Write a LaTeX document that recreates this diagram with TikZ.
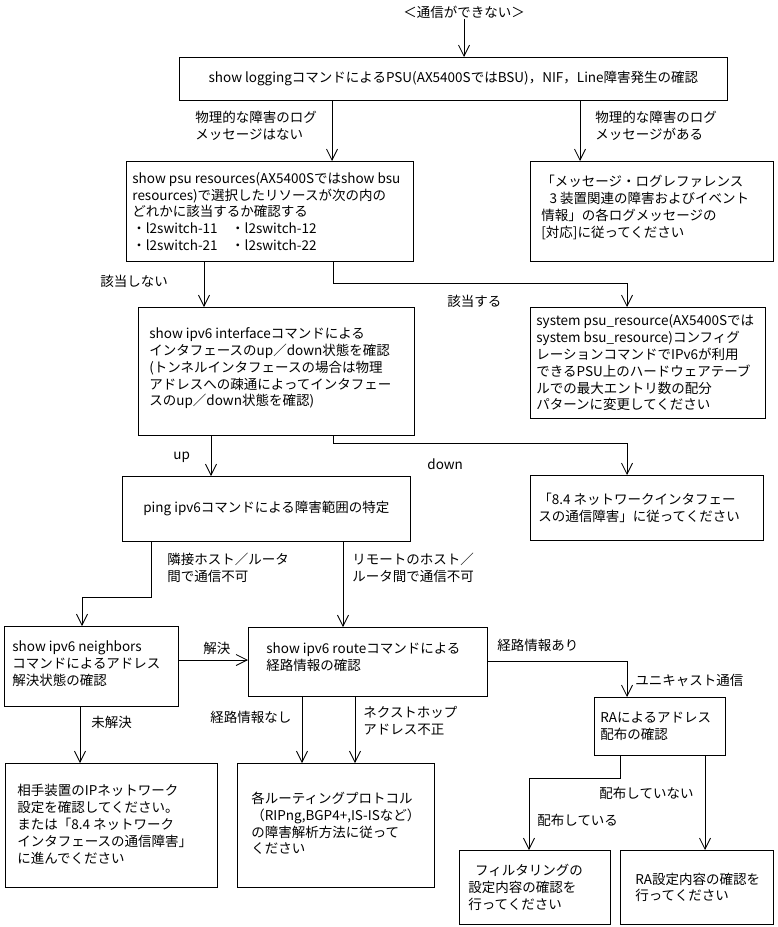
\documentclass[tikz,border=0pt]{standalone}
\usepackage{fontspec}
\setmainfont{Noto Sans CJK JP}
\usetikzlibrary{arrows.meta}

\begin{document}
\begin{tikzpicture}[
  x = 1pt, y = -1pt,
  font = \fontsize{13.5}{16.8}\selectfont,
  line width = 0.8pt,
  box/.style = {rectangle, draw, anchor = north west, inner sep = 0pt},
  txt/.style = {anchor = west, align = left, inner sep = 0pt},
  lbl/.style = {anchor = west, align = left, inner sep = 0pt},
  arr/.style = {-{Straight Barb[length = 11pt, width = 11pt]}}
]
  \fill[white] (0,0) rectangle (778,927);
  \useasboundingbox (0,0) rectangle (778,927);

  \node[inner sep = 0pt] (title) at (464, 12) {＜通信ができない＞};

  \node[box, minimum width = 548pt, minimum height = 43pt]  (log)    at (179, 57)  {};
  \node[box, minimum width = 287pt, minimum height = 100pt] (psu)    at (126, 161) {};
  \node[box, minimum width = 243pt, minimum height = 100pt] (msg)    at (530, 161) {};
  \node[box, minimum width = 276pt, minimum height = 128pt] (intf)   at (138, 307) {};
  \node[box, minimum width = 235pt, minimum height = 111pt] (rsrc)   at (530, 307) {};
  \node[box, minimum width = 288pt, minimum height = 65pt]  (ping)   at (122, 476) {};
  \node[box, minimum width = 233pt, minimum height = 65pt]  (nwif)   at (530, 475) {};
  \node[box, minimum width = 174pt, minimum height = 80pt]  (nbr)    at (4, 626)   {};
  \node[box, minimum width = 239pt, minimum height = 69pt]  (route)  at (248, 627) {};
  \node[box, minimum width = 131pt, minimum height = 58pt]  (ra)     at (594, 697) {};
  \node[box, minimum width = 212pt, minimum height = 124pt] (peer)   at (5, 763)   {};
  \node[box, minimum width = 197pt, minimum height = 124pt] (proto)  at (237, 763) {};
  \node[box, minimum width = 151pt, minimum height = 74pt]  (filt)   at (459, 850) {};
  \node[box, minimum width = 153pt, minimum height = 74pt]  (raconf) at (620, 850) {};

  \node[inner sep = 0pt] (log-t) at (log.center) {show loggingコマンドによるPSU(AX5400SではBSU)，NIF，Line障害発生の確認};
  \node[txt] (psu-t) at ([xshift = 6pt]psu.west) {show psu resources(AX5400Sではshow bsu\\resources)で選択したリソースが次の内の\\どれかに該当するか確認する\\・l2switch-11　・l2switch-12\\・l2switch-21　・l2switch-22};
  \node[txt] (msg-t) at ([xshift = 11pt, yshift = 4pt]msg.west) {「メッセージ・ログレファレンス\\\hspace*{0.6em}3 装置関連の障害およびイベント\\情報」の各ログメッセージの\\{}{[}対応{]}に従ってください};
  \node[txt] (intf-t) at ([xshift = 11pt, yshift = 3pt]intf.west) {show ipv6 interfaceコマンドによる\\インタフェースのup／down状態を確認\\(トンネルインタフェースの場合は物理\\アドレスへの疎通によってインタフェー\\スのup／down状態を確認)};
  \node[txt] (rsrc-t) at ([xshift = 6pt]rsrc.west) {system psu\_resource(AX5400Sでは\\system bsu\_resource)コンフィグ\\レーションコマンドでIPv6が利用\\できるPSU上のハードウェアテーブ\\ルでの最大エントリ数の配分\\パターンに変更してください};
  \node[inner sep = 0pt] (ping-t) at (ping.center) {ping ipv6コマンドによる障害範囲の特定};
  \node[txt] (nwif-t) at ([xshift = 8pt]nwif.west) {「8.4 ネットワークインタフェー\\スの通信障害」に従ってください};
  \node[txt] (nbr-t) at ([xshift = 8pt, yshift = 3pt]nbr.west) {show ipv6 neighbors\\コマンドによるアドレス\\解決状態の確認};
  \node[txt] (route-t) at ([xshift = 18pt, yshift = 5pt]route.west) {show ipv6 routeコマンドによる\\経路情報の確認};
  \node[txt] (ra-t) at ([xshift = 6pt]ra.west) {RAによるアドレス\\配布の確認};
  \node[txt] (peer-t) at ([xshift = 12pt, yshift = 1pt]peer.west) {相手装置のIPネットワーク\\設定を確認してください。\\または「8.4 ネットワーク\\インタフェースの通信障害」\\に進んでください};
  \node[txt] (proto-t) at ([xshift = 14pt, yshift = 2pt]proto.west) {各ルーティングプロトコル\\（RIPng,BGP4+,IS-ISなど）\\の障害解析方法に従って\\ください};
  \node[txt] (filt-t) at ([xshift = 9pt]filt.west) {\hspace*{0.5em}フィルタリングの\\設定内容の確認を\\行ってください};
  \node[txt] (raconf-t) at ([xshift = 15pt]raconf.west) {RA設定内容の確認を\\行ってください};

  \node[lbl] (nolog)    at (195, 126) {物理的な障害のログ\\メッセージはない};
  \node[lbl] (haslog)   at (595, 126) {物理的な障害のログ\\メッセージがある};
  \node[lbl] (nomatch)  at (100, 281) {該当しない};
  \node[lbl] (match)    at (447, 301) {該当する};
  \node[lbl] (up)       at (173, 457) {up};
  \node[lbl] (down)     at (427, 464) {down};
  \node[lbl] (near)     at (167, 568) {隣接ホスト／ルータ\\間で通信不可};
  \node[lbl] (remote)   at (352, 568) {リモートのホスト／\\ルータ間で通信不可};
  \node[lbl] (solved)   at (203, 648) {解決};
  \node[lbl] (unsolved) at (91, 722)  {未解決};
  \node[lbl] (noroute)  at (210, 717) {経路情報なし};
  \node[lbl] (badhop)   at (363, 721) {ネクストホップ\\アドレス不正};
  \node[lbl] (hasroute) at (497, 645) {経路情報あり};
  \node[lbl] (unicast)  at (635, 680) {ユニキャスト通信};
  \node[lbl] (nodist)   at (599, 793) {配布していない};
  \node[lbl] (dist)     at (537, 820) {配布している};

  \draw[arr] (title.south) -- (title.south |- log.north);
  \draw[arr] (log.south -| 332,0) -- (psu.north -| 332,0);
  \draw[arr] (log.south -| 580,0) -- (msg.north -| 580,0);
  \draw[arr] (psu.south -| 204,0) -- (intf.north -| 204,0);
  \draw[arr] (psu.south -| 333,0) -- ++(0,22) -| (rsrc.north -| 627,0);
  \draw[arr] (intf.south -| 211,0) -- (ping.north -| 211,0);
  \draw[arr] (intf.south -| 333,0) -- ++(0,8) -| (nwif.north -| 627,0);
  \draw[arr] (ping.south -| 151,0) -- ++(0,56) -| (nbr.north -| 82,0);
  \draw[arr] (ping.south -| 343,0) -- (route.north -| 343,0);
  \draw[arr] (nbr.east |- 0,660) -- (route.west |- 0,660);
  \draw[arr] (nbr.south -| 80,0) -- (peer.north -| 80,0);
  \draw[arr] (route.south -| 302,0) -- (proto.north -| 302,0);
  \draw[arr] (route.south -| 355,0) -- (proto.north -| 355,0);
  \draw[arr] (route.east |- 0,661) -| (ra.north -| 627,0);
  \draw[arr] (ra.south -| 620,0) -- ++(0,23) -| (filt.north -| 529,0);
  \draw[arr] (ra.south -| 705,0) -- (raconf.north -| 705,0);
\end{tikzpicture}
\end{document}
